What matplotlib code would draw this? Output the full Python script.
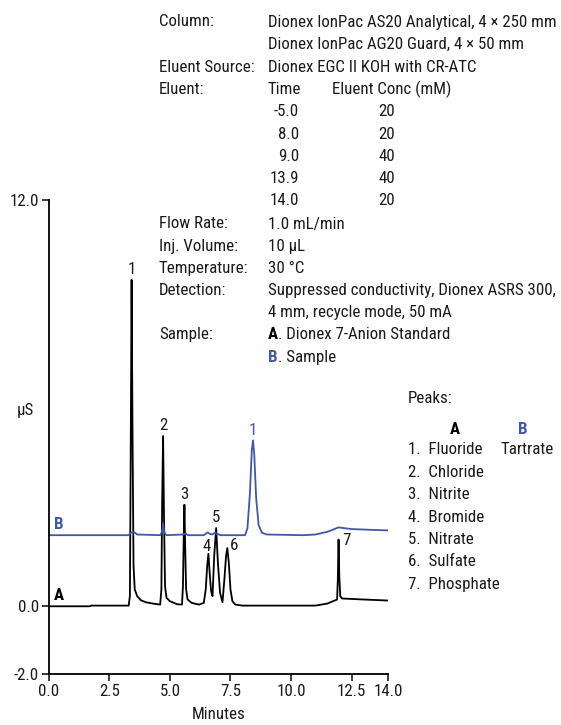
import matplotlib
matplotlib.use("Agg")
import matplotlib.pyplot as plt

W, H = 561, 725
BLUE = '#3f58a8'

# trace A: 7-anion standard (minutes, uS)
time_a = [0.0, 1.7, 1.75, 3.3, 3.35, 3.38, 3.42, 3.46, 3.50, 3.55, 3.65, 3.8, 4.0, 4.3, 4.6,
          4.65, 4.68, 4.72, 4.76, 4.80, 4.86, 5.0, 5.3, 5.5,
          5.54, 5.57, 5.60, 5.63, 5.67, 5.73, 5.9, 6.2, 6.4,
          6.48, 6.54, 6.59, 6.64, 6.70, 6.76, 6.83, 6.91, 6.98, 7.07, 7.17,
          7.25, 7.32, 7.37, 7.43, 7.5, 7.58, 7.7, 8.0, 11.0, 11.5, 11.9,
          11.93, 11.96, 11.99, 12.03, 12.1, 13.0, 14.0]
signal_a = [0.0, 0.0, 0.02, 0.02, 0.3, 4.0, 9.64, 5.0, 1.2, 0.5, 0.3, 0.18, 0.12, 0.08, 0.05,
            0.5, 3.0, 5.03, 2.5, 0.6, 0.25, 0.15, 0.06, 0.05,
            0.6, 2.0, 3.0, 1.8, 0.5, 0.2, 0.1, 0.05, 0.1,
            0.5, 1.2, 1.55, 1.0, 0.45, 0.3, 1.5, 2.31, 1.3, 0.4, 0.12,
            0.8, 1.5, 1.72, 1.3, 0.5, 0.15, 0.05, 0.02, 0.02, 0.08, 0.2,
            0.8, 1.97, 0.9, 0.3, 0.23, 0.2, 0.17]

# trace B: sample
time_b = [0.0, 3.3, 3.4, 3.55, 3.65, 4.6, 4.68, 4.72, 4.76, 4.85, 5.55, 5.65, 5.75,
          6.4, 6.55, 6.65, 6.75, 6.85, 6.95, 7.1, 8.1, 8.2, 8.3, 8.38, 8.43, 8.48,
          8.56, 8.66, 8.8, 9.0, 10.5, 11.0, 11.5, 11.96, 12.5, 14.0]
signal_b = [2.1, 2.1, 2.18, 2.18, 2.12, 2.1, 2.2, 2.45, 2.2, 2.1, 2.12, 2.15, 2.1,
            2.1, 2.18, 2.14, 2.12, 2.17, 2.14, 2.1, 2.1, 2.3, 3.3, 4.6, 4.9, 4.5,
            3.2, 2.4, 2.17, 2.12, 2.1, 2.12, 2.2, 2.33, 2.28, 2.24]

peak_ids_a = ['1', '2', '3', '4', '5', '6', '7']
peak_times_a = [3.42, 4.72, 5.60, 6.59, 6.91, 7.37, 11.96]
peak_heights_a = [9.64, 5.03, 3.0, 1.55, 2.31, 1.72, 1.97]
# label offsets in points; 6 and 7 sit beside their peaks
peak_label_off = [(0, 2, 'bottom'), (0, 2, 'bottom'), (0, 2, 'bottom'), (-1, 0, 'bottom'),
                  (0, 2, 'bottom'), (5, 2, 'center'), (6, -1, 'center')]

peak_ids_b = ['1']
peak_times_b = [8.43]
peak_heights_b = [4.9]

peak_names = ['Fluoride', 'Chloride', 'Nitrite', 'Bromide', 'Nitrate', 'Sulfate', 'Phosphate']
peak_names_b = ['Tartrate']

x_ticks = [0.0, 2.5, 5.0, 7.5, 10.0, 12.5, 14.0]
y_ticks = [-2.0, 0.0, 12.0]

conditions = [
    ('Column:', 'Dionex IonPac AS20 Analytical, 4 × 250 mm'),
    ('', 'Dionex IonPac AG20 Guard, 4 × 50 mm'),
    ('Eluent Source:', 'Dionex EGC II KOH with CR-ATC'),
]
gradient_time = ['-5.0', '8.0', '9.0', '13.9', '14.0']
gradient_conc = ['20', '20', '40', '40', '20']
conditions2 = [
    ('Flow Rate:', '1.0 mL/min'),
    ('Inj. Volume:', '10 µL'),
    ('Temperature:', '30 °C'),
    ('Detection:', 'Suppressed conductivity, Dionex ASRS 300,'),
    ('', '4 mm, recycle mode, 50 mA'),
]

plt.rcParams['font.family'] = ['Roboto Condensed', 'DejaVu Sans']
FS = 12.2
TXT = '#1a1a1a'

fig = plt.figure(figsize=(W / 100, H / 100), dpi=100)
ax = fig.add_axes([48.7 / W, 51 / H, (388 - 48.7) / W, (674 - 200) / H])
ax.plot(time_a, signal_a, color='black', lw=1.3)
ax.plot(time_b, signal_b, color=BLUE, lw=1.3)
ax.set_xlim(0, 14)
ax.set_ylim(-2, 12)
ax.set_xticks(x_ticks)
ax.set_xticklabels([f'{t:.1f}' for t in x_ticks])
ax.set_yticks(y_ticks)
ax.set_yticklabels([f'{t:.1f}' for t in y_ticks])
ax.tick_params(labelsize=FS, width=1.2, length=5, pad=2, colors=TXT)
for s in ['top', 'right']:
    ax.spines[s].set_visible(False)
for s in ['left', 'bottom']:
    ax.spines[s].set_linewidth(1.3)
ax.set_xlabel('Minutes', fontsize=FS, labelpad=6, color=TXT)
ax.set_ylabel('µS', fontsize=FS, rotation=0, color=TXT)
ax.yaxis.set_label_coords(-0.07, 0.54)

for pid, t, h, (dx, dy, va) in zip(peak_ids_a, peak_times_a, peak_heights_a, peak_label_off):
    ax.annotate(pid, (t, h), xytext=(dx, dy), textcoords='offset points',
                ha='center', va=va, fontsize=FS, color=TXT)
for pid, t, h in zip(peak_ids_b, peak_times_b, peak_heights_b):
    ax.annotate(pid, (t, h), xytext=(0, 2), textcoords='offset points',
                ha='center', va='bottom', fontsize=FS, color=BLUE)
ax.text(0.22, signal_b[0] + 0.1, 'B', color=BLUE, fontsize=FS, fontweight='bold', va='bottom')
ax.text(0.22, 0.1, 'A', color='black', fontsize=FS, fontweight='bold', va='bottom')

renderer = fig.canvas.get_renderer()


def put(x, y, s, **kw):
    kw.setdefault('fontsize', FS)
    kw.setdefault('va', 'center')
    kw.setdefault('color', TXT)
    return fig.text(x / W, 1 - y / H, s, **kw)


LX, VX = 159, 268
row = 22
for lab, val in conditions:
    put(LX, row, lab)
    put(VX, row, val)
    row += 22.5
put(LX, row, 'Eluent:')
put(VX, row, 'Time')
put(332, row, 'Eluent Conc (mM)')
row += 22.5
for t, c in zip(gradient_time, gradient_conc):
    put(299, row, t, ha='right')
    put(387, row, c, ha='center')
    row += 22.1
row = 224
for lab, val in conditions2:
    put(LX, row, lab)
    put(VX, row, val)
    row += 22.2
put(LX, row, 'Sample:')
t = put(VX, row, 'A', fontweight='bold', color='black')
wa = t.get_window_extent(renderer).width
put(VX + wa, row, '. Dionex 7-Anion Standard')
row += 22.2
t = put(VX, row, 'B', fontweight='bold', color=BLUE)
wb = t.get_window_extent(renderer).width
put(VX + wb, row, '. Sample')

put(408, 399, 'Peaks:')
put(455, 429, 'A', fontweight='bold', ha='center', color='black')
put(523, 429, 'B', fontweight='bold', ha='center', color=BLUE)
row = 450
for i, name in enumerate(peak_names):
    put(408, row, f'{i + 1}.  {name}')
    row += 22.4
put(501, 450, peak_names_b[0])

fig.savefig('out.png', dpi=100)
